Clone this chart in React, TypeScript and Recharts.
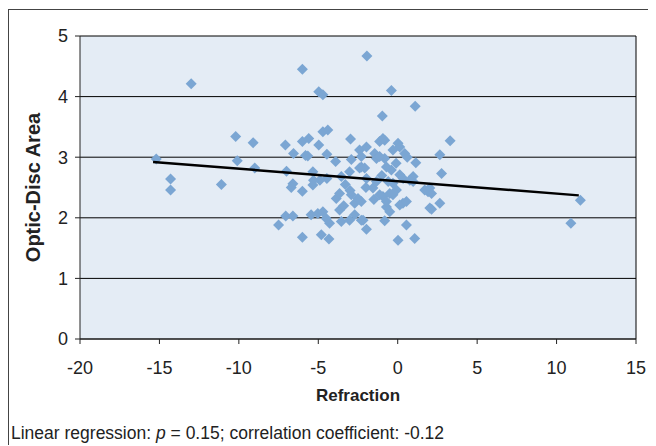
import React from "react";
import {
  CartesianGrid,
  ReferenceLine,
  Scatter,
  ScatterChart,
  XAxis,
  YAxis,
} from "recharts";

// values
const refraction = [
  -15.2, -14.3, -14.3, -13.0, -11.1, -10.2, -10.1, -9.1, -9.0, -7.5,
  -7.05, -6.6, -7.07, -6.56, -6.0, -5.6, -5.8, -7.0, -6.6, -6.7,
  -6.0, -6.0, -6.0, -4.97, -4.71, -1.94, -0.4, 1.1, -0.97, -4.71,
  -4.4, -4.97, -2.97, 3.3, -5.66, -4.46, -2.4, -1.97, -1.14, -0.82,
  0.02, 0.13, 0.44, 2.65, 1.14, 2.76, -3.91, -2.92, -2.29, -1.45,
  -1.34, -0.82, -0.4, -5.34, -4.46, -3.55, 0.34, 0.97, 2.02, -5.34,
  -3.87, -3.66, -2.92, -2.71, -2.5, -3.66, -0.93, -0.5, -0.08, 0.33,
  -0.71, 1.91, 2.13, 2.65, 2.13, -5.45, -5.03, -4.71, -4.5, -4.29,
  -3.55, -3.03, -2.29, -1.97, -0.82, 0.55, -4.81, -4.33, 0.02, 1.07,
  11.5, 10.9, -2.29, -2.4, -3.03, -0.93, -1.14, -0.3, -2.08, -0.71,
  0.13, 0.97, -0.71, -1.14, -1.56, -0.3, 0.13, 0.55, -1.97, -1.34,
  -0.3, 0.76, -2.29, -2.18, 1.7, 2.02, -3.0, -3.4, -0.6, -1.0,
  -0.1, 0.6, -3.3, -4.9, -2.71, -2.0, -1.5, -0.5, -5.3,
];
const discArea = [
  2.97, 2.64, 2.46, 4.21, 2.55, 3.34, 2.94, 3.24, 2.82, 1.88,
  2.03, 2.03, 3.2, 3.06, 3.26, 3.31, 3.03, 2.77, 2.56, 2.5,
  2.44, 1.68, 4.45, 4.08, 4.03, 4.67, 4.1, 3.84, 3.68, 3.42,
  3.45, 3.2, 3.3, 3.27, 3.02, 3.05, 3.12, 3.17, 3.26, 3.28,
  3.23, 3.17, 3.06, 3.04, 2.91, 2.73, 2.93, 2.96, 2.84, 3.06,
  2.98, 2.98, 2.79, 2.76, 2.65, 2.68, 2.65, 2.6, 2.49, 2.54,
  2.32, 2.4, 2.38, 2.24, 2.32, 2.13, 2.35, 2.4, 2.46, 2.24,
  2.18, 2.43, 2.4, 2.24, 2.14, 2.05, 2.07, 2.1, 1.99, 1.91,
  1.94, 1.96, 1.96, 1.81, 1.95, 1.88, 1.72, 1.65, 1.63, 1.66,
  2.29, 1.91, 3.01, 2.82, 2.76, 3.31, 3.01, 3.12, 2.82, 2.84,
  2.71, 2.68, 2.27, 2.38, 2.49, 2.38, 2.21, 2.27, 2.65, 2.6,
  2.57, 2.62, 2.27, 1.96, 2.46, 2.16, 2.45, 2.2, 2.6, 2.7,
  2.9, 3.0, 2.55, 2.62, 2.05, 2.5, 2.3, 2.1, 2.62,
];

// regression line end points
const fitX = [-15.4, 11.4];
const fitY = [2.92, 2.37];

const xTicks = [-20, -15, -10, -5, 0, 5, 10, 15];
const yTicks = [0, 1, 2, 3, 4, 5];

const points = refraction.map((x, i) => ({ x, y: discArea[i] }));
const fitLine = fitX.map((x, i) => ({ x, y: fitY[i] }));

const font = "'Liberation Sans', Arial, sans-serif";

const Diamond = (props: any) => {
  const { cx, cy } = props;
  const r = 5.5;
  return (
    <polygon
      points={`${cx},${cy - r} ${cx + r},${cy} ${cx},${cy + r} ${cx - r},${cy}`}
      fill="#7ba6d3"
    />
  );
};

const Nothing = () => <g />;

export default function App() {
  return (
    <div
      style={{
        position: "relative",
        top: 1,
        width: 647,
        height: 436,
        borderLeft: "1px solid #444",
        borderTop: "1px solid #444",
        fontFamily: font,
      }}
    >
      <ScatterChart
        width={640}
        height={420}
        margin={{ top: 26, right: 13, bottom: 21, left: 11 }}
      >
        <CartesianGrid
          vertical={false}
          stroke="#000"
          fill="#e4ecf5"
          fillOpacity={1}
        />
        <XAxis
          type="number"
          dataKey="x"
          domain={[-20, 15]}
          ticks={xTicks}
          height={70}
          tickSize={5}
          tickMargin={17}
          stroke="#222"
          tick={{ fill: "#222", fontSize: 18, fontFamily: font }}
          label={{
            value: "Refraction",
            position: "insideBottom",
            offset: 8,
            style: { fontWeight: "bold", fontSize: 17, fill: "#222", fontFamily: font },
          }}
        />
        <YAxis
          type="number"
          dataKey="y"
          domain={[0, 5]}
          ticks={yTicks}
          width={60}
          tickSize={5}
          tickMargin={7}
          stroke="#222"
          tick={{ fill: "#222", fontSize: 18, fontFamily: font }}
          label={{
            value: "Optic-Disc Area",
            angle: -90,
            position: "insideLeft",
            offset: 13,
            style: {
              textAnchor: "middle",
              fontWeight: "bold",
              fontSize: 20,
              fill: "#222",
              fontFamily: font,
            },
          }}
        />
        <ReferenceLine x={15} stroke="#000" />
        <Scatter data={points} shape={Diamond} isAnimationActive={false} />
        <Scatter
          data={fitLine}
          line={{ stroke: "#000", strokeWidth: 2.5 }}
          shape={Nothing}
          isAnimationActive={false}
        />
      </ScatterChart>
      <div
        style={{
          position: "absolute",
          left: 2,
          top: 413,
          fontSize: 17.5,
          lineHeight: "20px",
          color: "#222",
          whiteSpace: "nowrap",
        }}
      >
        Linear regression: <i>p</i> = 0.15; correlation coefficient: -0.12
      </div>
    </div>
  );
}
